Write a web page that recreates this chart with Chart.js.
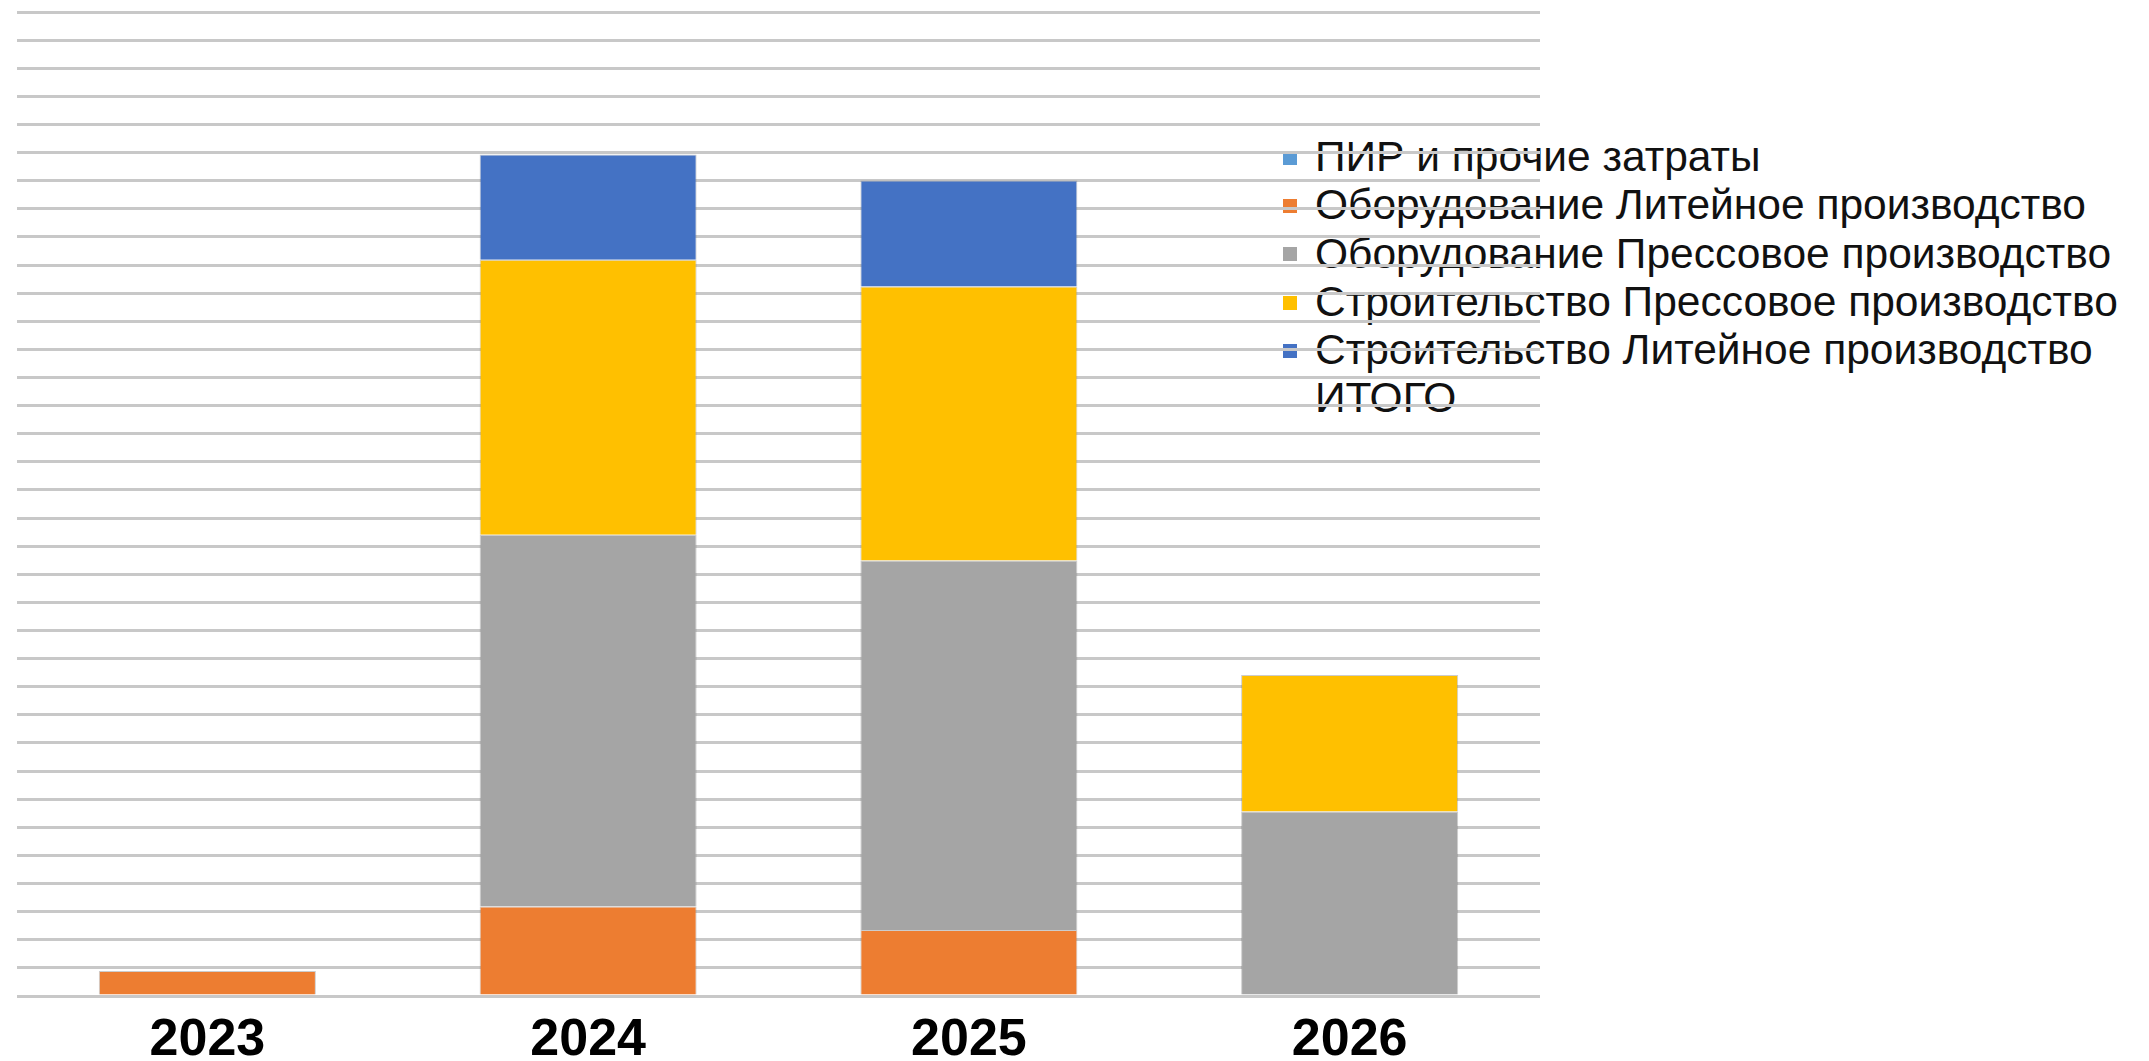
<!DOCTYPE html>
<html lang="ru">
<head>
<meta charset="utf-8">
<script src="https://cdn.jsdelivr.net/npm/chart.js@4"></script>
<style>
    html, body { margin: 0; padding: 0; background: #fff; }
    #wrap { position: relative; width: 2149px; height: 1061px; }
    #chart { position: absolute; left: 0; top: 0; z-index: 1; }
    #legend {
        position: absolute; left: 1283px; top: 133px; z-index: 0;
        font-family: "Liberation Sans", Arial, sans-serif; font-size: 42.5px; color: #111;
    }
    .item { height: 48.3px; line-height: 48.3px; white-space: nowrap; }
    .box { display: inline-block; width: 14px; height: 14px; margin-right: 18px; vertical-align: middle; position: relative; top: -2px; }
</style>
</head>
<body>
<div id="wrap">
    <div id="legend"></div>
    <canvas id="chart" width="2149" height="1061"></canvas>
</div>
<script>
//------data
const years = ['2023', '2024', '2025', '2026'];
const pir = [0, 0, 0, 0];                     // ПИР и прочие затраты
const oborLit = [89, 318, 235, 0];            // Оборудование Литейное производство
const oborPress = [0, 1323, 1314, 656];       // Оборудование Прессовое производство
const stroiPress = [0, 978, 975, 486];        // Строительство Прессовое производство
const stroiLit = [0, 374, 377, 0];            // Строительство Литейное производство
const itogo = years.map((y, i) => pir[i] + oborLit[i] + oborPress[i] + stroiPress[i] + stroiLit[i]);

const yMax = 3500;
const yStep = 100;

//------chart
const bar = (label, data, color) => ({
    type: 'bar',
    label: label,
    data: data,
    backgroundColor: color,
    borderColor: 'rgba(110,110,110,0.35)',
    borderWidth: 1,
    stack: 'a'
});

const trend = {
    labels: years,
    datasets: [
        bar('ПИР и прочие затраты', pir, '#5B9BD5'),
        bar('Оборудование Литейное производство', oborLit, '#ED7D31'),
        bar('Оборудование Прессовое производство', oborPress, '#A5A5A5'),
        bar('Строительство Прессовое производство', stroiPress, '#FFC000'),
        bar('Строительство Литейное производство', stroiLit, '#4472C4'),
        {
            type: 'line',
            label: 'ИТОГО',
            data: itogo,
            showLine: false,
            pointRadius: 0,
            borderColor: 'rgba(0,0,0,0)',
            backgroundColor: 'rgba(0,0,0,0)',
            stack: 'total'
        }
    ]
};

const config = {
    type: 'bar',
    data: trend,
    options: {
        responsive: false,
        animation: false,
        datasets: {
            bar: { barPercentage: 0.57, categoryPercentage: 1 }
        },
        layout: {
            padding: { top: 12, right: 609, bottom: 0, left: 17 }
        },
        plugins: {
            legend: { display: false },
            tooltip: { enabled: false }
        },
        scales: {
            x: {
                stacked: true,
                grid: { display: false, drawTicks: false },
                border: { display: false },
                ticks: {
                    color: '#000',
                    padding: 19,
                    font: { family: '"Liberation Sans", Arial, sans-serif', size: 52, weight: 'bold', lineHeight: 1 }
                },
                afterFit: (scale) => { scale.height = 65; } // fixed axis band under the bars
            },
            y: {
                stacked: true,
                min: 0,
                max: yMax,
                grid: { color: '#c8c8c8', lineWidth: 3, drawTicks: false },
                border: { display: false },
                ticks: { display: false, stepSize: yStep }
            }
        }
    }
};

var chart = document.getElementById('chart');
var myChart = new Chart(chart, config);

//------legend
const legend = document.getElementById('legend');
trend.datasets.forEach(ds => {
    const row = document.createElement('div');
    row.className = 'item';
    const box = document.createElement('span');
    box.className = 'box';
    if (ds.type === 'bar') box.style.background = ds.backgroundColor;
    row.appendChild(box);
    row.appendChild(document.createTextNode(ds.label));
    legend.appendChild(row);
});
</script>
</body>
</html>
